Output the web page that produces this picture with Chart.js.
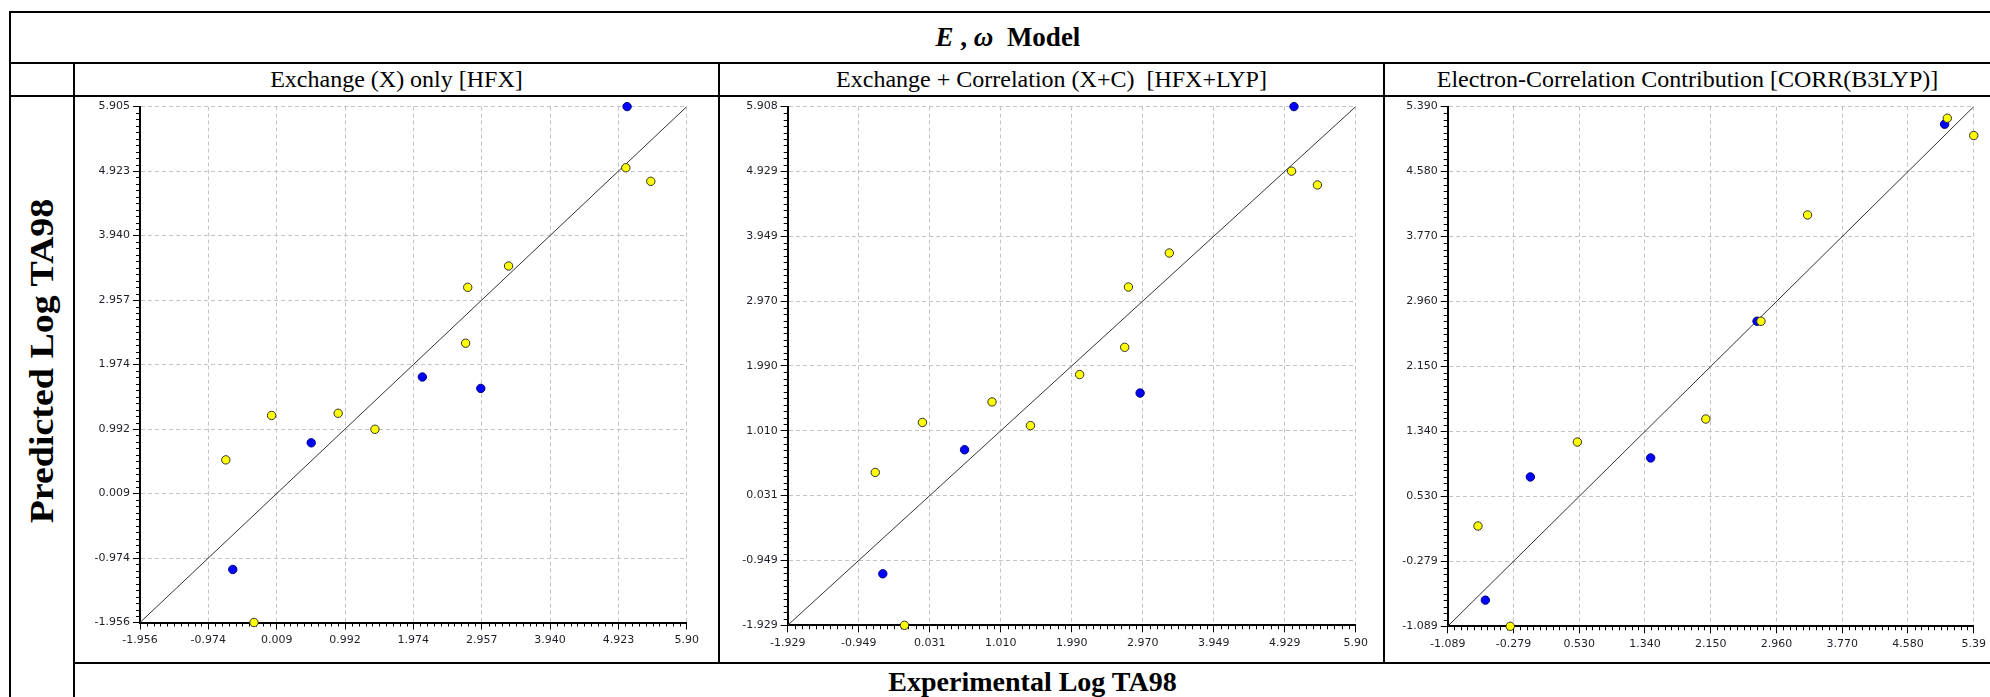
<!DOCTYPE html>
<html><head><meta charset="utf-8">
<script src="https://cdn.jsdelivr.net/npm/chart.js@4.4.1/dist/chart.umd.min.js"></script>
<style>
html,body{margin:0;padding:0;background:#fff;}
body{width:1990px;height:697px;position:relative;overflow:hidden;font-family:'Liberation Serif','Times New Roman',serif;}
.ln{position:absolute;background:#000;}
.txt{position:absolute;white-space:pre;color:#000;text-align:center;}
.pc{position:absolute;background:#fff;}
.pc canvas{display:block;}
</style></head><body>

<div class="ln" style="left:9px;top:11px;width:1981px;height:2px"></div>
<div class="ln" style="left:9px;top:11px;width:2px;height:686px"></div>
<div class="ln" style="left:9px;top:62px;width:1981px;height:2px"></div>
<div class="ln" style="left:73px;top:63px;width:2px;height:634px"></div>
<div class="ln" style="left:9px;top:95px;width:1981px;height:2px"></div>
<div class="ln" style="left:718px;top:63px;width:2px;height:601px"></div>
<div class="ln" style="left:1383px;top:63px;width:2px;height:601px"></div>
<div class="ln" style="left:73px;top:662px;width:1917px;height:2px"></div>

<div class="txt" style="left:508px;top:13px;width:1000px;height:49px;line-height:49px;font-size:27px;font-weight:bold"><i>E</i> , <i>ω</i>  Model</div>
<div class="txt" style="left:75px;top:64px;width:643px;height:31px;line-height:31px;font-size:24px">Exchange (X) only [HFX]</div>
<div class="txt" style="left:720px;top:64px;width:663px;height:31px;line-height:31px;font-size:24px">Exchange + Correlation (X+C)  [HFX+LYP]</div>
<div class="txt" style="left:1385px;top:64px;width:605px;height:31px;line-height:31px;font-size:24px">Electron-Correlation Contribution [CORR(B3LYP)]</div>
<div class="txt" style="left:75px;top:665px;width:1915px;height:34px;line-height:34px;font-size:28px;font-weight:bold">Experimental Log TA98</div>
<div class="txt" style="left:-158px;top:343px;width:400px;height:36px;line-height:36px;font-size:33px;font-weight:bold;transform:rotate(-90deg) scaleX(1.15)">Predicted Log TA98</div>

<div class="pc" style="left:92px;top:97px;width:611px;height:565px"><canvas id="c1" width="611" height="565"></canvas></div>
<div class="pc" style="left:737px;top:97px;width:635px;height:565px"><canvas id="c2" width="635" height="565"></canvas></div>
<div class="pc" style="left:1402px;top:97px;width:588px;height:565px"><canvas id="c3" width="588" height="565"></canvas></div>

<script>
// ---- tick values and labels ----
const ticks1 = [-1.956, -0.974, 0.009, 0.992, 1.974, 2.957, 3.940, 4.923, 5.905];
const yLabels1 = ['-1.956','-0.974','0.009','0.992','1.974','2.957','3.940','4.923','5.905'];
const xLabels1 = ['-1.956','-0.974','0.009','0.992','1.974','2.957','3.940','4.923','5.90'];

const ticks2 = [-1.929, -0.949, 0.031, 1.010, 1.990, 2.970, 3.949, 4.929, 5.908];
const yLabels2 = ['-1.929','-0.949','0.031','1.010','1.990','2.970','3.949','4.929','5.908'];
const xLabels2 = ['-1.929','-0.949','0.031','1.010','1.990','2.970','3.949','4.929','5.90'];

const ticks3 = [-1.089, -0.279, 0.530, 1.340, 2.150, 2.960, 3.770, 4.580, 5.390];
const yLabels3 = ['-1.089','-0.279','0.530','1.340','2.150','2.960','3.770','4.580','5.390'];
const xLabels3 = ['-1.089','-0.279','0.530','1.340','2.150','2.960','3.770','4.580','5.39'];

// ---- data: experimental (x) vs predicted (y) ----
const p1BlueExp   = [5.047, 2.104, 2.944, 0.506, -0.622];
const p1BluePred  = [5.905, 1.785, 1.611, 0.782, -1.148];
const p1YellowExp  = [5.029, 5.388, 3.343, 2.756, 2.726, -0.064, 0.893, 1.422, -0.722, -0.317];
const p1YellowPred = [4.973, 4.767, 3.476, 3.151, 2.300, 1.199, 1.232, 0.988, 0.522, -1.956];

const p2BlueExp   = [5.056, 2.933, 0.511, -0.617];
const p2BluePred  = [5.908, 1.580, 0.723, -1.151];
const p2YellowExp  = [5.022, 5.379, 3.336, 2.772, 2.720, 2.099, 0.890, 1.420, -0.070, -0.721, -0.318];
const p2YellowPred = [4.933, 4.724, 3.696, 3.182, 2.271, 1.859, 1.446, 1.088, 1.136, 0.381, -1.929];

const p3BlueExp   = [5.031, 2.721, 1.411, -0.071, -0.625];
const p3BluePred  = [5.170, 2.714, 1.010, 0.773, -0.763];
const p3YellowExp  = [5.064, 5.390, 3.343, 2.769, 2.090, 0.508, -0.716, -0.319];
const p3YellowPred = [5.245, 5.029, 4.039, 2.714, 1.495, 1.208, 0.161, -1.089];

const pts = (xs, ys) => xs.map((x, i) => ({x, y: ys[i]}));

const minorTicks = {
  id: 'minorTicks',
  beforeDatasetsDraw(chart) {
    const ctx = chart.ctx, ca = chart.chartArea, n = 10;
    const xs = chart.scales.x, ys = chart.scales.y;
    ctx.save();
    ctx.strokeStyle = '#000';
    ctx.lineWidth = 1;
    const xt = xs.ticks.map(t => t.value), yt = ys.ticks.map(t => t.value);
    for (let i = 0; i < xt.length - 1; i++) {
      for (let k = 1; k < n; k++) {
        const px = Math.round(xs.getPixelForValue(xt[i] + (xt[i+1] - xt[i]) * k / n)) + 0.5;
        ctx.beginPath(); ctx.moveTo(px, ca.bottom); ctx.lineTo(px, ca.bottom + 4); ctx.stroke();
      }
    }
    for (let i = 0; i < yt.length - 1; i++) {
      for (let k = 1; k < n; k++) {
        const py = Math.round(ys.getPixelForValue(yt[i] + (yt[i+1] - yt[i]) * k / n)) + 0.5;
        ctx.beginPath(); ctx.moveTo(ca.left - 4, py); ctx.lineTo(ca.left, py); ctx.stroke();
      }
    }
    ctx.restore();
  }
};

function makeChart(id, ticks, xLabels, yLabels, blue, yellow, lay) {
  const lo = ticks[0], hi = ticks[ticks.length - 1];
  const tickFont = {family: "'DejaVu Sans', sans-serif", size: 11};
  const axisCommon = (labels, fitFn) => ({
    type: 'linear', min: lo, max: hi,
    afterBuildTicks: s => { s.ticks = ticks.map(v => ({value: v})); },
    afterFit: fitFn,
    ticks: {callback: (v, i) => labels[i], color: '#1e1e28', font: tickFont, autoSkip: false, maxRotation: 0, padding: 3},
    grid: {color: '#c4c4c4', lineWidth: 1, tickLength: 7, tickColor: '#000', tickWidth: 1},
    border: {display: true, color: '#000', width: 2, dash: [4, 3]}
  });
  const xAxis = axisCommon(xLabels, s => { s.height = lay.H; });
  xAxis.ticks.padding = 4;
  const yAxis = axisCommon(yLabels, s => { s.width = lay.W; });
  return new Chart(document.getElementById(id), {
    type: 'scatter',
    data: {
      datasets: [
        {data: pts(yellow[0], yellow[1]), backgroundColor: '#ffff00', borderColor: '#303030', borderWidth: 1, pointRadius: 4.2, clip: false, order: 0},
        {data: pts(blue[0], blue[1]), backgroundColor: '#0000ff', borderColor: '#00007a', borderWidth: 1, pointRadius: 4.2, clip: false, order: 1},
        {data: [{x: lo, y: lo}, {x: hi, y: hi}], showLine: true, borderColor: '#333', borderWidth: 1, pointRadius: 0, order: 2}
      ]
    },
    options: {
      responsive: false, animation: false, devicePixelRatio: 1,
      layout: {padding: {left: 0, top: lay.T, right: lay.R, bottom: 0}},
      plugins: {legend: {display: false}, tooltip: {enabled: false}},
      events: [],
      scales: {x: xAxis, y: yAxis}
    },
    plugins: [minorTicks]
  });
}

makeChart('c1', ticks1, xLabels1, yLabels1, [p1BlueExp, p1BluePred], [p1YellowExp, p1YellowPred], {W: 48, R: 7.3, T: 7.3, H: 39.5});
makeChart('c2', ticks2, xLabels2, yLabels2, [p2BlueExp, p2BluePred], [p2YellowExp, p2YellowPred], {W: 50.7, R: 10, T: 6.7, H: 36.7});
makeChart('c3', ticks3, xLabels3, yLabels3, [p3BlueExp, p3BluePred], [p3YellowExp, p3YellowPred], {W: 45.7, R: 14, T: 3, H: 35.7});
</script>
</body></html>
